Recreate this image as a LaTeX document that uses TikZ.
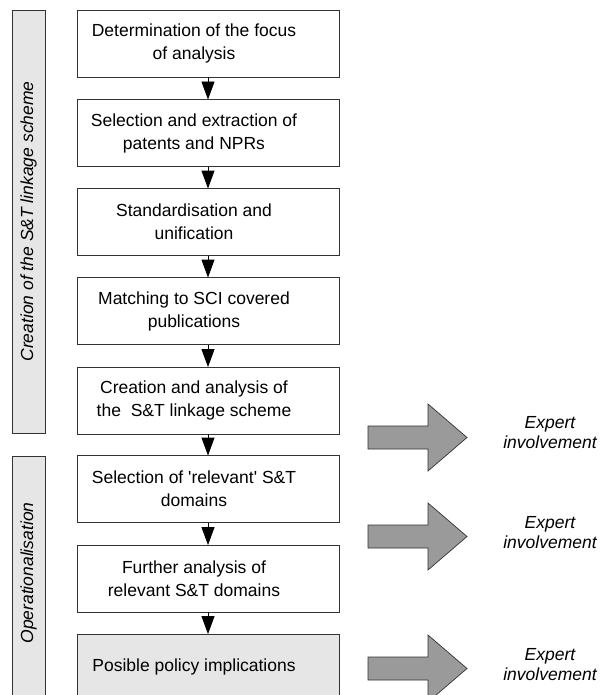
\documentclass[tikz,border=0pt]{standalone}
\usepackage{fontspec}
\setmainfont{Liberation Sans}
\usetikzlibrary{arrows.meta}
\definecolor{barfill}{HTML}{E6E6E6}
\definecolor{bigfill}{HTML}{9A9A9A}
\definecolor{edge}{HTML}{333333}
\begin{document}
\begin{tikzpicture}[x=1pt,y=-1pt,
  every node/.style={font=\fontsize{17.5pt}{23pt}\selectfont},
  stepbox/.style={draw=edge, line width=0.9pt, fill=white, minimum width=262pt, minimum height=67pt, inner sep=0pt},
  greybox/.style={stepbox, fill=barfill},
  boxtext/.style={align=center, inner sep=0pt},
  sidebar/.style={draw=edge, line width=0.9pt, fill=barfill, minimum width=33pt, inner sep=0pt},
  sidetext/.style={rotate=90, font=\fontsize{17.5pt}{23pt}\selectfont\itshape, inner sep=0pt},
  flowarrow/.style={draw=black, line width=0.9pt, -{Triangle[length=18pt,width=13pt]}, shorten >=-0.5pt},
  bigarrow/.style={draw=edge, line width=0.7pt, fill=bigfill, line join=miter},
  experttext/.style={align=center, font=\fontsize{17.5pt}{20pt}\selectfont\itshape, inner sep=0pt}]
\useasboundingbox (0,0) rectangle (602,695);
\clip (0,0) rectangle (602,695);

% side bars
\node[sidebar, minimum height=423pt] (s1) at (28.5,221.5) {};
\node[sidetext] (s1t) at (s1.center) {Creation of the S\&T linkage scheme};
\node[sidebar, minimum height=245pt] (s2) at (28.5,578.5) {};
\node[sidetext] (s2t) at (28.5,573) {Operationalisation};

% boxes
\node[stepbox] (b1) at (208,43.5) {};
\node[stepbox] (b2) at (208,133) {};
\node[stepbox] (b3) at (208,222) {};
\node[stepbox] (b4) at (208,311) {};
\node[stepbox] (b5) at (208,400.5) {};
\node[stepbox] (b6) at (208,489) {};
\node[stepbox] (b7) at (208,578.5) {};
\node[greybox] (b8) at (208,667.5) {};

\node[boxtext] (t1) at ([xshift=-14pt]b1.center) {Determination of the focus\\of analysis};
\node[boxtext] (t2) at ([xshift=-14pt]b2.center) {Selection and extraction of\\patents and NPRs};
\node[boxtext] (t3) at ([xshift=-14pt]b3.center) {Standardisation and\\unification};
\node[boxtext] (t4) at ([xshift=-14pt]b4.center) {Matching to SCI covered\\publications};
\node[boxtext] (t5) at ([xshift=-14pt]b5.center) {Creation and analysis of\\the~ S\&T linkage scheme};
\node[boxtext] (t6) at ([xshift=-14pt]b6.center) {Selection of \textquotesingle relevant\textquotesingle{} S\&T\\domains};
\node[boxtext] (t7) at ([xshift=-14pt]b7.center) {Further analysis of\\relevant S\&T domains};
\node[boxtext] (t8) at ([xshift=-14pt,yshift=1pt]b8.center) {Posible policy implications};

% flow arrows
\draw[flowarrow] (b1.south) -- (b2.north);
\draw[flowarrow] (b2.south) -- (b3.north);
\draw[flowarrow] (b3.south) -- (b4.north);
\draw[flowarrow] (b4.south) -- (b5.north);
\draw[flowarrow] (b5.south) -- (b6.north);
\draw[flowarrow] (b6.south) -- (b7.north);
\draw[flowarrow] (b7.south) -- (b8.north);

% big arrows
\foreach \yc in {437.5,536.5,668.5}{
  \draw[bigarrow] (368,\yc-11.5) -- (428,\yc-11.5) -- (428,\yc-33.5) -- (467,\yc)
    -- (428,\yc+33.5) -- (428,\yc+11.5) -- (368,\yc+11.5) -- cycle;
}
\node[experttext] (e1) at (550,433) {Expert\\involvement};
\node[experttext] (e2) at (550,533) {Expert\\involvement};
\node[experttext] (e3) at (550,665) {Expert\\involvement};
\end{tikzpicture}
\end{document}
